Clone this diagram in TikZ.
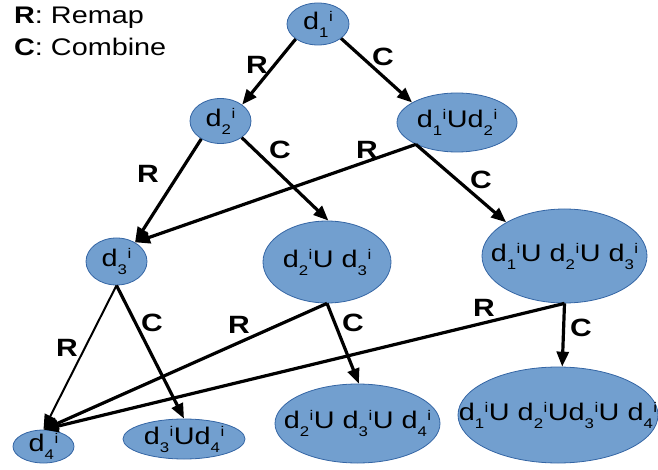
\documentclass[tikz,border=0pt]{standalone}
\usepackage{fontspec}
\setmainfont[FakeStretch=1.2]{Liberation Sans}
\usetikzlibrary{shapes.geometric,arrows.meta}
\definecolor{nodefill}{HTML}{729FCF}
\definecolor{nodeline}{HTML}{3465A4}
\newcommand\dsup[1]{d\raisebox{-8pt}{\fontsize{14}{14}\selectfont #1}\hspace{0.5pt}\raisebox{8pt}{\fontsize{14}{14}\selectfont i}}
\newcommand\Un{\hspace{0.5pt}U}
\begin{document}
\begin{tikzpicture}[x=1pt,y=-1pt,
  blob/.style={ellipse, draw=nodeline, fill=nodefill, line width=0.8pt, inner sep=0pt},
  ntext/.style={font=\fontsize{24}{28}\selectfont, inner sep=0pt},
  lab/.style={font=\bfseries\fontsize{25}{28}\selectfont, inner sep=0pt},
  legend/.style={font=\fontsize{24}{28}\selectfont, inner sep=0pt, anchor=base west},
  arr/.style={-{Triangle[length=15pt,width=12pt]}, line width=3.2pt},
  thinarr/.style={-{Triangle[length=15pt,width=12pt]}, line width=2pt}]
\useasboundingbox (0,0) rectangle (658,470);
% legend
\node[legend] (legR) at (14,24) {\textbf{R}: Remap};
\node[legend] (legC) at (14,56) {\textbf{C}: Combine};
% nodes
\node[blob, minimum width=62pt, minimum height=42pt, label={[ntext]center:\dsup{1}}] (d1) at (318,24) {};
\node[blob, minimum width=61pt, minimum height=45pt, label={[ntext]center:\dsup{2}}] (d2) at (220.5,121) {};
\node[blob, minimum width=120pt, minimum height=59pt, label={[ntext]center:\dsup{1}\Un\dsup{2}}] (d12) at (457,122.5) {};
\node[blob, minimum width=61pt, minimum height=47pt, label={[ntext]center:\dsup{3}}] (d3) at (116.5,261.5) {};
\node[blob, minimum width=128pt, minimum height=82pt, label={[ntext]center:\dsup{2}\Un{} \dsup{3}}] (d23) at (327,262) {};
\node[blob, minimum width=165pt, minimum height=94pt, label={[ntext]center:\dsup{1}\Un{} \dsup{2}\Un{} \dsup{3}}] (d123) at (564.5,256) {};
\node[blob, minimum width=61pt, minimum height=33pt, label={[ntext]center:\dsup{4}}] (d4) at (43.5,446.5) {};
\node[blob, minimum width=122pt, minimum height=40pt, label={[ntext]center:\dsup{3}\Un\dsup{4}}] (d34) at (184,439) {};
\node[blob, minimum width=165pt, minimum height=79pt, label={[ntext]center:\dsup{2}\Un{} \dsup{3}\Un{} \dsup{4}}] (d234) at (357.5,423.5) {};
\node[blob, minimum width=200pt, minimum height=96pt, label={[ntext]center:\dsup{1}\Un{} \dsup{2}\Un\dsup{3}\Un{} \dsup{4}}] (d1234) at (558,415) {};
% edges
\draw[arr] (d1.214) -- (d2.37);
\draw[arr] (d1.328) -- (d12.156);
\draw[arr] (d2.223) -- (d3.46);
\draw[arr] (d2.322) -- (d23.88);
\draw[arr] (d12.208) -- (d3.46);
\draw[arr] (d12.208) -- (d123.150);
\draw[thinarr] (d3.south) -- (d4.north);
\draw[arr] (d3.south) -- (d34.north);
\draw[arr] (d23.south) -- (d4.north);
\draw[arr] (d23.south) -- (d234.88);
\draw[arr] (d123.south) -- (d4.north);
\draw[arr] (d123.south) -- (d1234.85);
% edge labels
\node[lab] (l1) at (257,65) {R};
\node[lab] (l2) at (383,57) {C};
\node[lab] (l3) at (148,174) {R};
\node[lab] (l4) at (280,150) {C};
\node[lab] (l5) at (367,150) {R};
\node[lab] (l6) at (481,180) {C};
\node[lab] (l7) at (67,348) {R};
\node[lab] (l8) at (152,323) {C};
\node[lab] (l9) at (239,325) {R};
\node[lab] (l10) at (353,323) {C};
\node[lab] (l11) at (484,308) {R};
\node[lab] (l12) at (581,328) {C};
\end{tikzpicture}
\end{document}
